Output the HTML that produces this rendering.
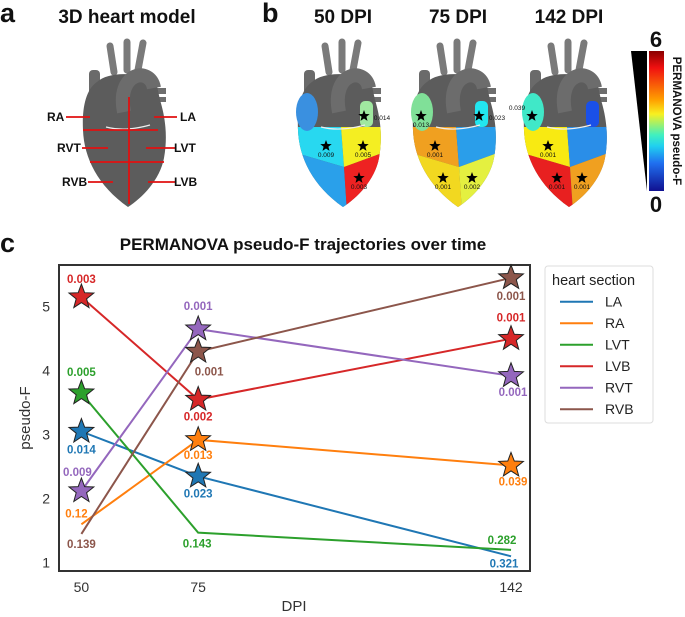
<!DOCTYPE html>
<html><head><meta charset="utf-8">
<style>
body{margin:0;background:#fff;}
svg{display:block;font-family:"Liberation Sans",sans-serif;}
.b{font-weight:bold;}
</style></head>
<body>
<svg id="fig" width="685" height="617" viewBox="0 0 685 617">
<defs>
  <clipPath id="bodyclip"><path d="M 97,82 C 85,90 82,110 83,130 C 84,158 98,186 128,207 C 142,198 160,180 164,158 C 168,136 165,116 160,100 L 157,86 C 145,72 110,70 97,82 Z"/></clipPath>
  <linearGradient id="jet" x1="0" y1="0" x2="0" y2="1">
    <stop offset="0" stop-color="#8a0000"/><stop offset="0.12" stop-color="#f01010"/>
    <stop offset="0.35" stop-color="#ffa000"/><stop offset="0.45" stop-color="#f8f020"/>
    <stop offset="0.6" stop-color="#40f0c0"/><stop offset="0.68" stop-color="#20d0f0"/>
    <stop offset="0.8" stop-color="#2070f0"/><stop offset="1" stop-color="#101090"/>
  </linearGradient>
  <g id="vessels">
    <rect x="89" y="70" width="11" height="40" rx="4" fill="#6a6a6a"/>
    <path d="M 114,72 L 110,46" stroke="#7a7a7a" stroke-width="7" stroke-linecap="round" fill="none"/>
    <path d="M 127,70 L 127,42" stroke="#7a7a7a" stroke-width="7" stroke-linecap="round" fill="none"/>
    <path d="M 138,70 L 143,43" stroke="#7a7a7a" stroke-width="7" stroke-linecap="round" fill="none"/>
    <rect x="148" y="88" width="18" height="6" fill="#6e6e6e"/>
    <rect x="150" y="97" width="16" height="5" fill="#6e6e6e"/>
  </g>
  <g id="arch">
    <path d="M 124,112 C 116,72 150,66 154,88" stroke="#6c6c6c" stroke-width="14" fill="none"/>
    <path d="M 106,127 Q 125,132 150,125" stroke="#eee" stroke-width="1.2" fill="none"/>
  </g>
</defs>

<!-- panel a -->
<text x="0" y="22" font-size="27" class="b" fill="#111">a</text>
<text x="127" y="23" font-size="19" class="b" text-anchor="middle" fill="#111">3D heart model</text>
<g>
  <use href="#vessels"/>
  <path d="M 97,82 C 85,90 82,110 83,130 C 84,158 98,186 128,207 C 142,198 160,180 164,158 C 168,136 165,116 160,100 L 157,86 C 145,72 110,70 97,82 Z" fill="#5c5c5c"/>
  <use href="#arch"/>
  <g stroke="#e01010" stroke-width="1.8" fill="none">
    <line x1="129" y1="97" x2="129" y2="204"/>
    <line x1="83" y1="130" x2="158" y2="130"/>
    <line x1="90" y1="162" x2="164" y2="162"/>
    <line x1="66" y1="117" x2="90" y2="117"/><line x1="177" y1="117" x2="154" y2="117"/>
    <line x1="82" y1="148" x2="108" y2="148"/><line x1="175" y1="148" x2="146" y2="148"/>
    <line x1="88" y1="182" x2="113" y2="182"/><line x1="175" y1="182" x2="148" y2="182"/>
  </g>
  <g font-size="12" class="b" fill="#111">
    <text x="47" y="121">RA</text>
    <text x="180" y="121">LA</text>
    <text x="57" y="152">RVT</text>
    <text x="174" y="152">LVT</text>
    <text x="62" y="186">RVB</text>
    <text x="174" y="186">LVB</text>
  </g>
</g>

<!-- panel b -->
<text x="262" y="22" font-size="27" class="b" fill="#111">b</text>
<g id="hearts"></g>
<polygon points="631,51 647,51 647,191" fill="#000"/>
<rect x="649" y="51" width="15" height="140" fill="url(#jet)"/>
<text x="656" y="47" font-size="22" class="b" text-anchor="middle" fill="#111">6</text>
<text x="656" y="212" font-size="22" class="b" text-anchor="middle" fill="#111">0</text>
<text transform="translate(673,121) rotate(90)" font-size="11.5" class="b" text-anchor="middle" fill="#111">PERMANOVA pseudo-F</text>

<!-- panel c -->
<text x="0" y="252" font-size="27" class="b" fill="#111">c</text>
<text x="303" y="250" font-size="17" class="b" text-anchor="middle" fill="#111">PERMANOVA pseudo-F trajectories over time</text>
<rect x="59" y="265" width="471" height="306" fill="#fff" stroke="#333" stroke-width="2"/>
<g id="chart"></g>
<text transform="translate(30,418) rotate(-90)" font-size="15" text-anchor="middle" fill="#333">pseudo-F</text>
<text x="294" y="611" font-size="15" text-anchor="middle" fill="#333">DPI</text>

<g>
  <rect x="545" y="266" width="108" height="157" rx="3" fill="#fff" stroke="#ddd"/>
  <text x="552" y="285" font-size="14.5" fill="#222">heart section</text>
  <g id="legend"></g>
</g>
</svg>
<script>
const NS = "http://www.w3.org/2000/svg";
// ---- chart data ----
const sections = ["LA","RA","LVT","LVB","RVT","RVB"];
const colors = ["#1f77b4","#ff7f0e","#2ca02c","#d62728","#9467bd","#8c564b"];
const dpi = [50,75,142];
const valLA  = [3.05,2.35,1.10];
const valRA  = [1.60,2.92,2.52];
const valLVT = [3.65,1.47,1.20];
const valLVB = [5.15,3.55,4.50];
const valRVT = [2.12,4.65,3.92];
const valRVB = [1.45,4.30,5.45];
const pLA  = ["0.014","0.023","0.321"];
const pRA  = ["0.12","0.013","0.039"];
const pLVT = ["0.005","0.143","0.282"];
const pLVB = ["0.003","0.002","0.001"];
const pRVT = ["0.009","0.001","0.001"];
const pRVB = ["0.139","0.001","0.001"];
const yTicks = [1,2,3,4,5];
// label placement offsets (px) relative to the point
const labDy = [[18,17,7],[-11,15,16],[-21,11,-10],[-18,17,-21],[-19,-23,16],[10,20,18]];
const labDx = [[0,0,-7],[-5,0,2],[0,-1,-9],[0,0,0],[-4,0,2],[0,11,0]];

const values = [valLA,valRA,valLVT,valLVB,valRVT,valRVB];
const pvals = [pLA,pRA,pLVT,pLVB,pRVT,pRVB];
function xs(v){ return 81.4 + (v-50)*4.67; }
function ys(v){ return 562.7 - (v-1)*64; }
function mk(tag, attrs, parent){ const e=document.createElementNS(NS,tag); for(const k in attrs) e.setAttribute(k,attrs[k]); parent.appendChild(e); return e; }
function starPts(cx,cy,R,r){ let p=[]; for(let i=0;i<10;i++){ const a=-Math.PI/2+i*Math.PI/5; const rr=i%2?r:R; p.push((cx+rr*Math.cos(a)).toFixed(1)+","+(cy+rr*Math.sin(a)).toFixed(1)); } return p.join(" "); }

const chart = document.getElementById("chart");
yTicks.forEach(t=>{
  const tx = mk("text",{x:50,y:ys(t)+5,"font-size":14,"text-anchor":"end",fill:"#333"},chart);
  
  
  tx.textContent=t;
});
dpi.forEach(d=>{
  const tx = mk("text",{x:xs(d),y:592,"font-size":14,"text-anchor":"middle",fill:"#333"},chart);
  
  
  tx.textContent=d;
});
sections.forEach((s,si)=>{
  const vals=values[si];
  const pts = vals.map((v,i)=>xs(dpi[i])+","+ys(v)).join(" ");
  const ln = mk("polyline",{points:pts,fill:"none",stroke:colors[si],"stroke-width":2},chart);
  
  
});
sections.forEach((s,si)=>{
  const vals=values[si];
  vals.forEach((v,i)=>{
    const x=xs(dpi[i]), y=ys(v);
    if(parseFloat(pvals[si][i])<0.05){
      const st = mk("polygon",{points:starPts(x,y,13,5.5),fill:colors[si],stroke:"#222","stroke-width":1},chart);
      
      
    }
  });
});
sections.forEach((s,si)=>{
  values[si].forEach((v,i)=>{
    const t = mk("text",{x:xs(dpi[i])+labDx[si][i],y:ys(v)+labDy[si][i]+4,"font-size":11.5,"font-weight":"bold","text-anchor":"middle",fill:colors[si]},chart);
    
    
    t.textContent=pvals[si][i];
  });
});
const leg=document.getElementById("legend");
sections.forEach((s,si)=>{
  const y=301.7+si*21.5;
  const l=mk("line",{x1:560,y1:y,x2:593,y2:y,stroke:colors[si],"stroke-width":2},leg);
  
  
  const t=mk("text",{x:605,y:y+5,"font-size":14,fill:"#222"},leg);
  
  
  t.textContent=s;
});

// ---- heart panels ----
const heartDpi = ["50 DPI","75 DPI","142 DPI"];
const heartShift = [215,330,441];
// region colors: RA, LA, RVT, LVT, RVB, LVB
const heartColors = [
  ["#3a90e0","#a0e8a0","#28d8f0","#f4ee22","#2aa0ea","#ee2222"],
  ["#80e098","#22e6f0","#f0a020","#2a9eea","#f2d820","#e4f040"],
  ["#40e8c8","#1a50e8","#f8ea12","#2a8ee8","#e82020","#f0a020"]];
const heartStars = [
  [[149,116,"0.014",167,120],[111,146,"0.009",111,157],[148,146,"0.005",148,157],[144,178,"0.003",144,189]],
  [[91,116,"0.013",91,127],[149,116,"0.023",167,120],[105,146,"0.001",105,157],[113,178,"0.001",113,189],[142,178,"0.002",142,189]],
  [[91,116,"0.039",76,110],[107,146,"0.001",107,157],[116,178,"0.001",116,189],[141,178,"0.001",141,189]]];
const hearts=document.getElementById("hearts");
heartDpi.forEach((lab,h)=>{
  const g=mk("g",{transform:"translate("+heartShift[h]+",0)"},hearts);
  
  
  const tt=mk("text",{x:128,y:23,"font-size":19,"font-weight":"bold","text-anchor":"middle",fill:"#111"},g);
  
  
  tt.textContent=lab;
  mk("use",{href:"#vessels"},g);
  mk("path",{d:"M 97,82 C 85,90 82,110 83,130 C 84,158 98,186 128,207 C 142,198 160,180 164,158 C 168,136 165,116 160,100 L 157,86 C 145,72 110,70 97,82 Z",fill:"#5c5c5c"},g);
  const c=heartColors[h];
  const cg=mk("g",{"clip-path":"url(#bodyclip)"},g);
  mk("polygon",{points:"78,127 126,127 129,167 78,152",fill:c[2]},cg);
  mk("polygon",{points:"126,127 170,127 170,152 129,167",fill:c[3]},cg);
  mk("polygon",{points:"78,152 129,167 132,212 78,212",fill:c[4]},cg);
  mk("polygon",{points:"129,167 170,152 170,212 132,212",fill:c[5]},cg);
  mk("ellipse",{cx:92,cy:112,rx:11,ry:19,fill:c[0]},g);
  mk("rect",{x:145,y:101,width:13,height:26,rx:5,fill:c[1]},g);
  mk("use",{href:"#arch"},g);
  heartStars[h].forEach(s=>{
    mk("polygon",{points:starPts(s[0],s[1],6,2.5),fill:"#000"},g);
    const pt=mk("text",{x:s[3],y:s[4],"font-size":6.5,"text-anchor":"middle",fill:"#111"},g);
    
    
    pt.textContent=s[2];
  });
});
</script>
</body></html>
